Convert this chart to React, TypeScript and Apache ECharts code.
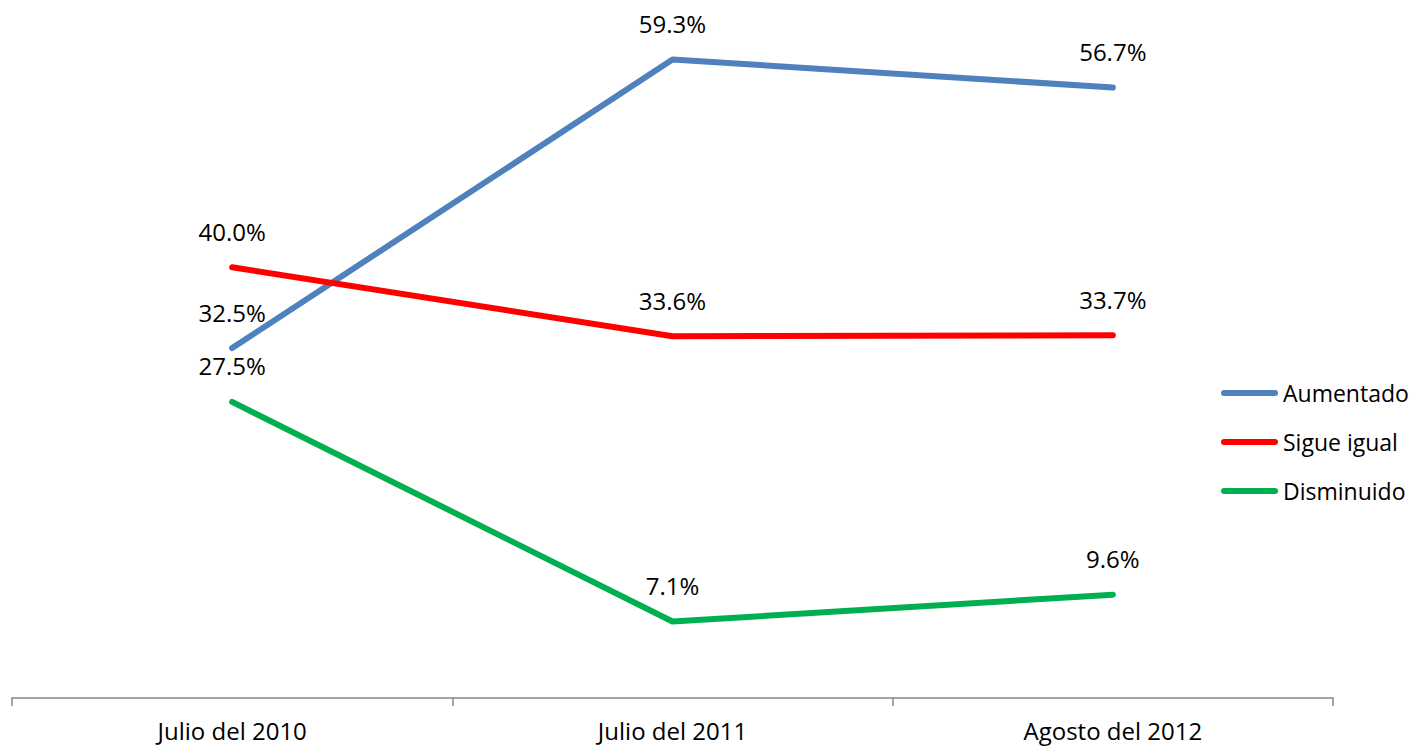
import React, { useEffect, useRef } from "react";
import * as echarts from "echarts";

const categories = ["Julio del 2010", "Julio del 2011", "Agosto del 2012"];
const aumentado = [32.5, 59.3, 56.7];
const sigueIgual = [40.0, 33.6, 33.7];
const disminuido = [27.5, 7.1, 9.6];

const FONT = "'Open Sans', sans-serif";
const legendIcon = "path://M3,0 H54 A3,3 0 0 1 54,6 H3 A3,3 0 0 1 3,0 Z";

function makeSeries(name: string, data: number[], color: string) {
  return {
    name,
    type: "line",
    data,
    symbol: "circle",
    symbolSize: 4,
    showSymbol: true,
    lineStyle: { color, width: 6, cap: "round", join: "round" },
    itemStyle: { color },
    label: {
      show: true,
      position: "top",
      distance: 22,
      color: "#000",
      fontFamily: FONT,
      fontSize: 24,
      formatter: (p: any) => `${Number(p.value).toFixed(1)}%`,
    },
  };
}

export default function App() {
  const ref = useRef<HTMLDivElement>(null);

  useEffect(() => {
    if (!ref.current) return;
    const chart = echarts.init(ref.current, undefined, { renderer: "svg" });
    chart.setOption({
      animation: false,
      backgroundColor: "#ffffff",
      textStyle: { fontFamily: FONT },
      grid: { left: 12, right: 86, top: 52, bottom: 49 },
      xAxis: {
        type: "category",
        data: categories,
        boundaryGap: true,
        axisLine: { lineStyle: { color: "#868686", width: 1.5 } },
        axisTick: { show: true, length: 8, lineStyle: { color: "#868686", width: 1.5 } },
        axisLabel: { color: "#000", fontSize: 24, fontFamily: FONT, margin: 20 },
      },
      yAxis: {
        type: "value",
        min: 0,
        max: 60,
        show: false,
        splitLine: { show: false },
      },
      legend: {
        orient: "vertical",
        left: 1216,
        top: 376,
        itemWidth: 57,
        itemHeight: 24,
        itemGap: 25,
        textStyle: { color: "#000", fontSize: 23, fontFamily: FONT, lineHeight: 24 },
        data: [
          { name: "Aumentado", icon: legendIcon },
          { name: "Sigue igual", icon: legendIcon },
          { name: "Disminuido", icon: legendIcon },
        ],
      },
      series: [
        makeSeries("Aumentado", aumentado, "#4F81BD"),
        makeSeries("Sigue igual", sigueIgual, "#FF0000"),
        makeSeries("Disminuido", disminuido, "#00B050"),
      ],
    });
    return () => chart.dispose();
  }, []);

  return (
    <div
      ref={ref}
      style={{ position: "fixed", left: 0, top: 0, width: 1419, height: 747 }}
    />
  );
}
